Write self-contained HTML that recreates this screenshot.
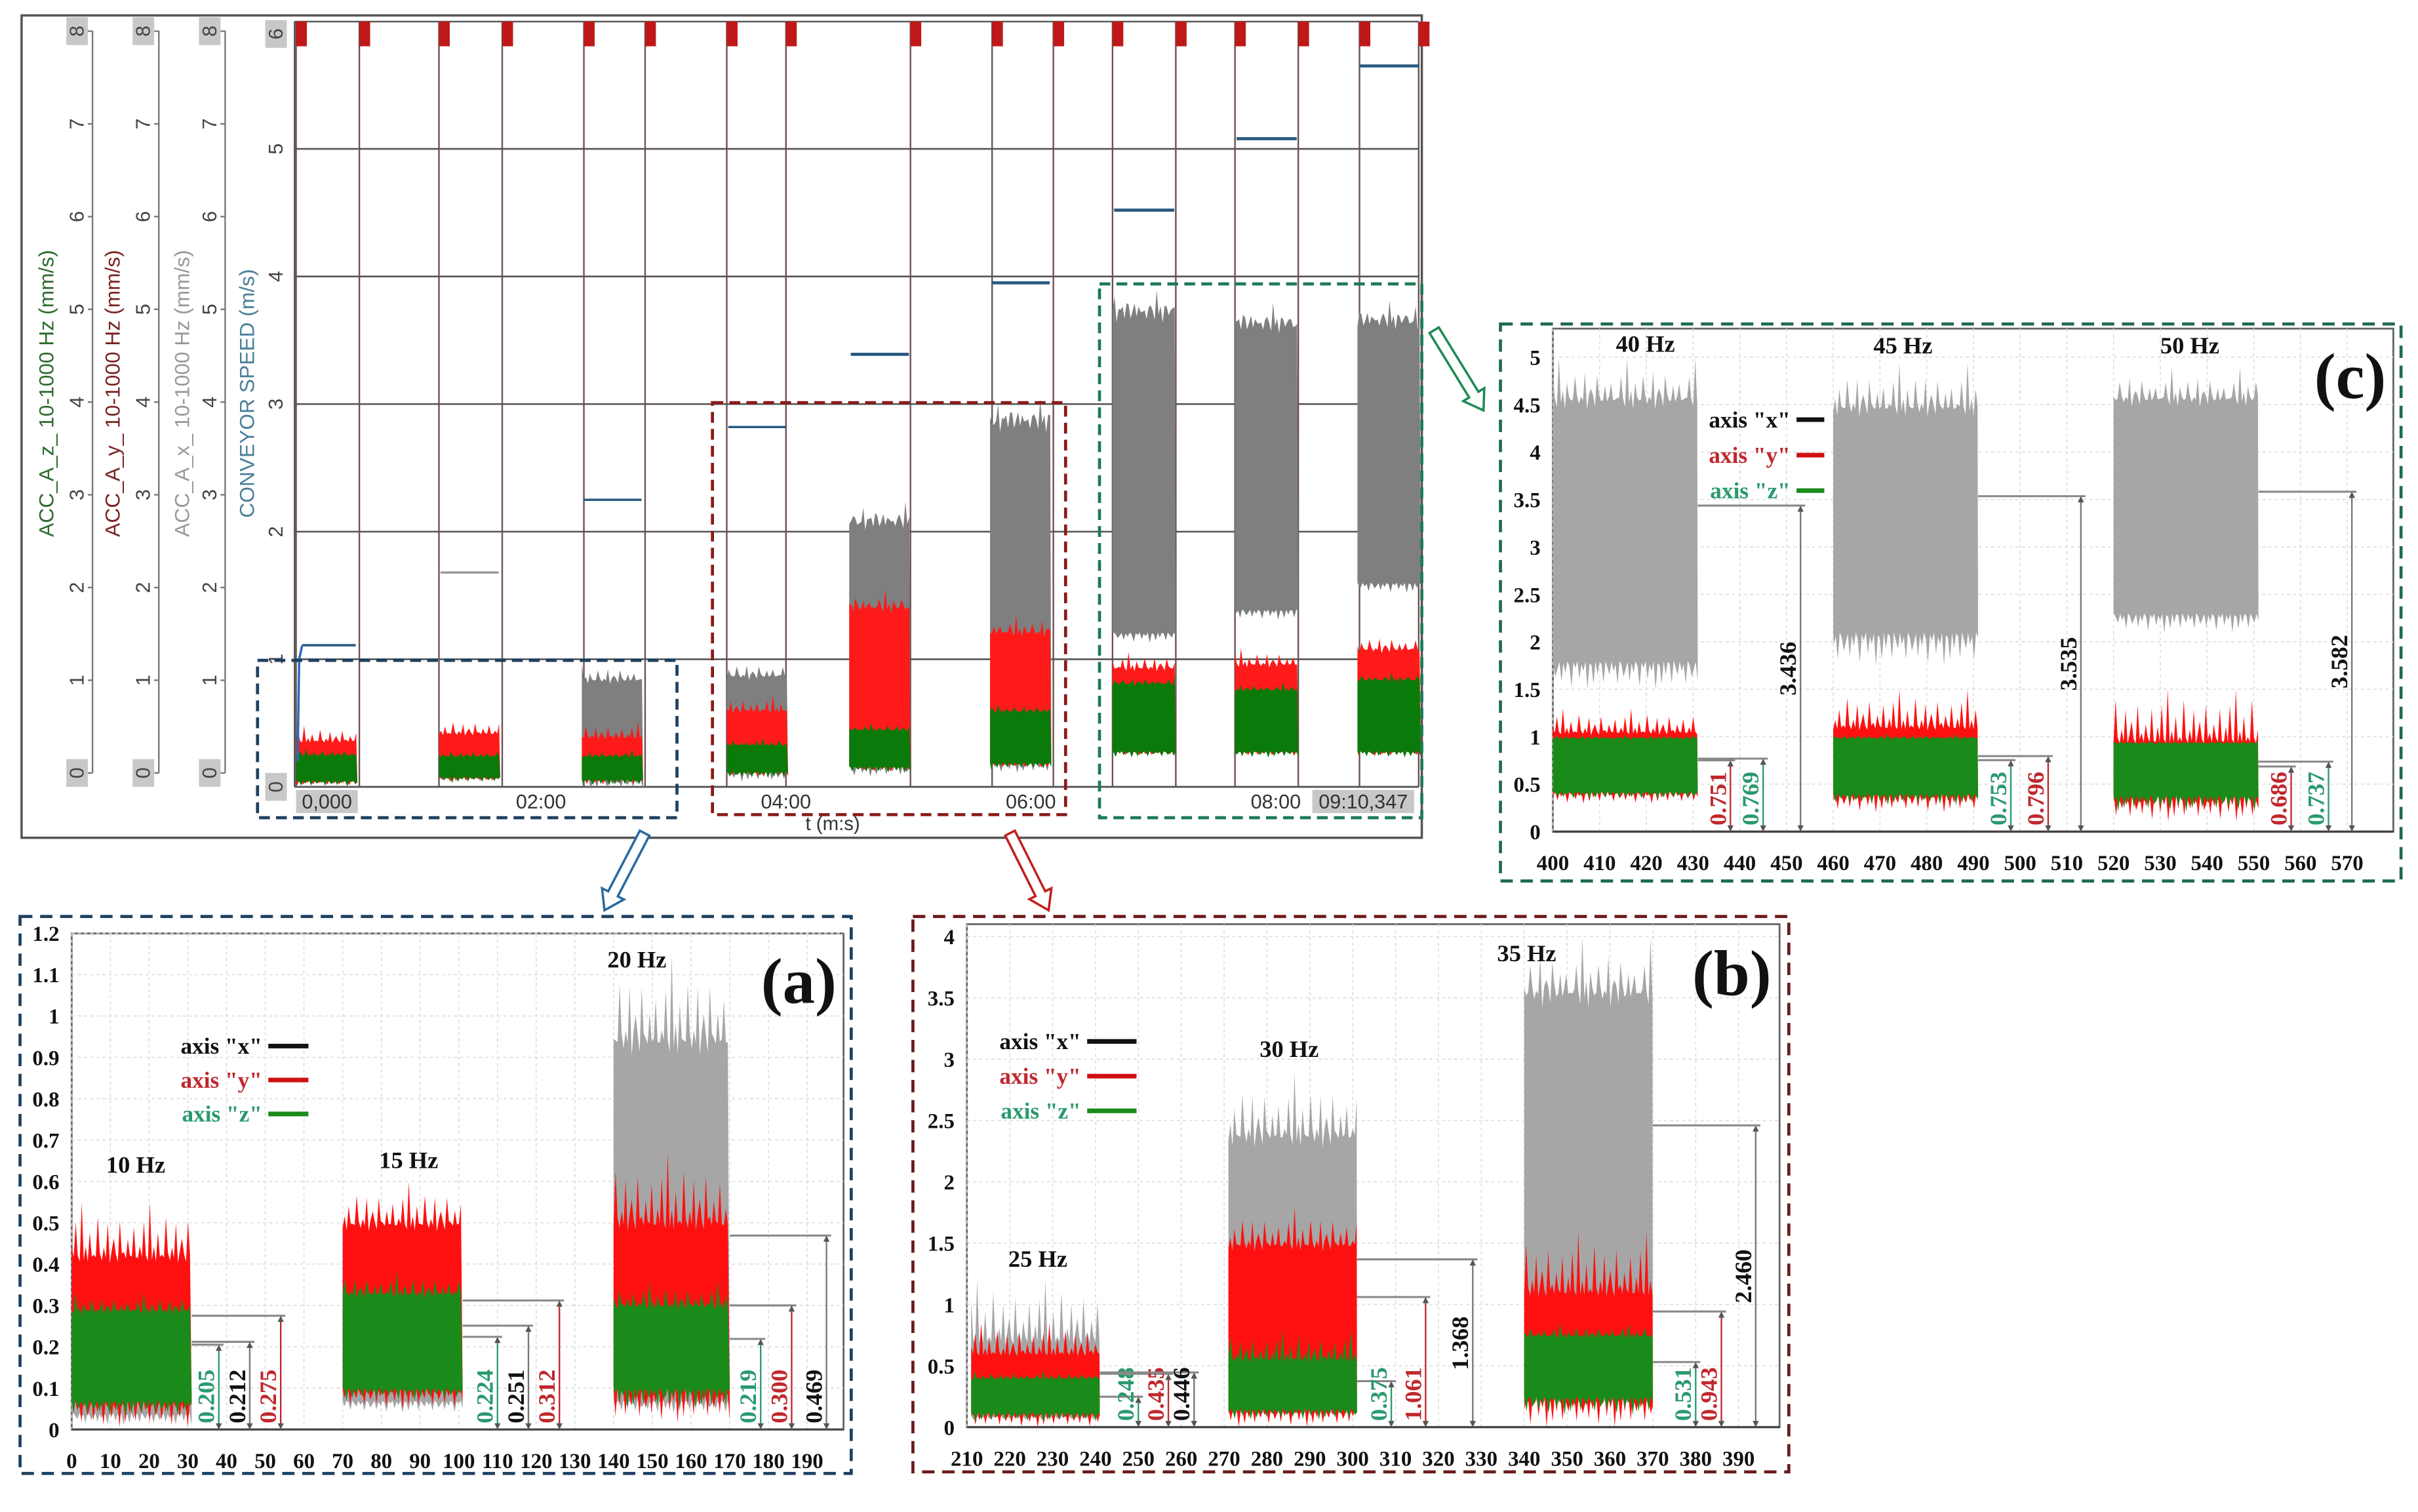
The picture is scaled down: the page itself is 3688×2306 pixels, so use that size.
<!DOCTYPE html>
<html><head><meta charset="utf-8"><style>
html,body{margin:0;padding:0;background:#fff;}
svg{display:block;}
.ser{font-family:"Liberation Serif",serif;font-weight:bold;}
.san{font-family:"Liberation Sans",sans-serif;}
</style></head><body>
<svg id="fig" xmlns="http://www.w3.org/2000/svg" width="3688" height="2306" viewBox="0 0 1568 980" preserveAspectRatio="none">
<rect x="0" y="0" width="1568" height="980" fill="#fff"/>
<g id="top"></g>
<g id="pa"></g>
<g id="pb"></g>
<g id="pc"></g>
<g id="deco"></g>
</svg>
<script>
// ---------- data: overview (top) ----------
const topStarts=[0,70,140,211,271,340,400,460,520];
const topEnds=[30,100,170,241,301,370,431,491,551];
const topSpeed=[1.11,1.68,2.25,2.82,3.39,3.95,4.52,5.08,5.65];
const topGreyTop=[0.3,0.3,0.85,0.88,2.12,2.93,3.78,3.68,3.7];
const topGreyBot=[0.05,0.08,0.06,0.12,0.16,0.19,1.21,1.39,1.6];
const topRedTop=[0.36,0.42,0.39,0.6,1.43,1.23,0.94,0.97,1.09];
const topGreenTop=[0.25,0.24,0.24,0.33,0.45,0.6,0.82,0.77,0.85];
const topBottom=[0.05,0.08,0.06,0.12,0.16,0.19,0.28,0.28,0.28];
const accTicks=[0,1,2,3,4,5,6,7,8];
const speedTicks=[0,1,2,3,4,5,6];
const timeLines=[0,31,70,101,141,171,211,240,301,341,371,400,431,460,491,521,550];
const timeLabels=["0,000","02:00","04:00","06:00","08:00","09:10,347"];
const timeLabelSec=[15,120,240,360,480,525];

// ---------- data: panel a ----------
const aFreq=["10 Hz","15 Hz","20 Hz"];
const aStart=[0,70,140], aEnd=[31,101,170];
const aGreyTop=[0.3,0.33,0.95], aGreyPeak=[0.3,0.33,1.15];
const aRedTop=[0.42,0.5,0.5], aRedPeak=[0.55,0.6,0.67];
const aGreenTop=[0.29,0.33,0.3], aBottom=[0.07,0.1,0.1];
const aAnnVal=[0.205,0.212,0.275,0.224,0.251,0.312,0.219,0.300,0.469];
const aAnnX=[38,46,54,110,118,126,178,186,195];
const aAnnCol=["g","k","r","g","k","r","g","r","k"];
const aAnnBlock=[0,0,0,1,1,1,2,2,2];
const aYTicks=[0,0.1,0.2,0.3,0.4,0.5,0.6,0.7,0.8,0.9,1,1.1,1.2];
const aXTicks=[0,10,20,30,40,50,60,70,80,90,100,110,120,130,140,150,160,170,180,190];

// ---------- data: panel b ----------
const bFreq=["25 Hz","30 Hz","35 Hz"];
const bStart=[211,271,340], bEnd=[241,301,370];
const bGreyTop=[0.7,2.4,3.6], bGreyPeak=[1.2,2.9,4.0];
const bRedTop=[0.6,1.5,1.1], bRedPeak=[0.85,1.8,1.6];
const bGreenTop=[0.4,0.55,0.75], bBottom=[0.12,0.15,0.25];
const bAnnVal=[0.248,0.435,0.446,0.375,1.061,1.368,0.531,0.943,2.460];
const bAnnX=[250,257,263,309,317,328,380,386,394];
const bAnnCol=["g","r","k","g","r","k","g","r","k"];
const bAnnBlock=[0,0,0,1,1,1,2,2,2];
const bYTicks=[0,0.5,1,1.5,2,2.5,3,3.5,4];
const bXTicks=[210,220,230,240,250,260,270,280,290,300,310,320,330,340,350,360,370,380,390];

// ---------- data: panel c ----------
const cFreq=["40 Hz","45 Hz","50 Hz"];
const cStart=[400,460,520], cEnd=[431,491,551];
const cGreyTop=[4.6,4.5,4.6], cGreyPeak=[5.0,4.95,4.9];
const cGreyBot=[1.8,2.1,2.3], cGreyDip=[1.5,1.75,2.1];
const cRedTop=[1.05,1.1,0.95], cRedPeak=[1.3,1.5,1.5];
const cGreenTop=[1.0,1.0,0.95], cBottom=[0.42,0.4,0.38];
const cAnnVal=[0.751,0.769,3.436,0.753,0.796,3.535,0.686,0.737,3.582];
const cAnnX=[438,445,453,498,506,513,558,566,571];
const cAnnCol=["r","g","k","g","r","k","r","g","k"];
const cAnnBlock=[0,0,0,1,1,1,2,2,2];
const cYTicks=[0,0.5,1,1.5,2,2.5,3,3.5,4,4.5,5];
const cXTicks=[400,410,420,430,440,450,460,470,480,490,500,510,520,530,540,550,560,570];

// ---------- helpers ----------
const NS="http://www.w3.org/2000/svg";
const JAG=[0.2,0.7,0.1,0.9,0.4,0.3,1,0.15,0.6,0.35,0.8,0.05,0.5,0.25,0.95,0.45,0.1,0.65,0.3,0.85,0.2,0.55,0.75,0.4,0.05,0.9,0.35,0.6,0.15,0.7,0.5,0.02,0.88,0.33];
function mk(tag,attrs,parent){const e=document.createElementNS(NS,tag);for(const k in attrs)e.setAttribute(k,attrs[k]);parent.appendChild(e);return e;}
function txt(parent,x,y,s,attrs){const t=mk('text',Object.assign({x:x,y:y},attrs),parent);t.textContent=s;return t;}
function band(parent,x1,x2,yTop,yPeak,yBot,yDip,fill,phase,name){
  let d="M"+x1+","+yBot;const step=1.3;let k=phase;const pts=[];
  for(let x=x1;x<=x2;x+=step){const j=JAG[k%JAG.length];pts.push([x,yTop-(j*j*j)*(yTop-yPeak)+ (JAG[(k+5)%JAG.length]*(yBot-yTop)*0.06)]);k++;}
  d+="L"+x1+","+pts[0][1];for(const p of pts)d+="L"+p[0].toFixed(2)+","+p[1].toFixed(2);
  d+="L"+x2+","+yBot;
  for(let x=x2;x>=x1;x-=step){const j=JAG[(k+11)%JAG.length];d+="L"+x.toFixed(2)+","+(yBot+(j*j)*(yDip-yBot)).toFixed(2);k++;}
  d+="Z";
  const p=mk('path',{d:d,fill:fill},parent);
  
  
  return p;
}
const COL={g:"#2a9a6e",r:"#c0282e",k:"#111"};

// ---------- overview ----------
(function(){
  const g=document.getElementById('top');
  const tx=t=>192+t*1.3236;
  const sy=v=>510-v*82.7;
  const ay=v=>501-v*60.1;
  const box=mk('rect',{x:14,y:10,width:908,height:533,fill:'none',stroke:'#555','stroke-width':1.5},g);
  
  const axX=[60,103,146];
  const labX=[50,93,136];
  axX.forEach((ax,i)=>{
    const l=mk('line',{x1:ax,y1:20,x2:ax,y2:501,stroke:'#777','stroke-width':1},g);
    
    accTicks.forEach(v=>{
      const y=ay(v);
      mk('line',{x1:ax-3,y1:y,x2:ax,y2:y,stroke:'#777'},g);
      if(v===0||v===8){const r=mk('rect',{x:labX[i]-7,y:y-9,width:14,height:18,fill:'#c8c8c8'},g);}
      const t=txt(g,labX[i],y,String(v),{class:'san','font-size':13,fill:'#444','text-anchor':'middle','dominant-baseline':'central',transform:`rotate(-90 ${labX[i]} ${y})`});
      
    });
  });
  speedTicks.forEach(v=>{
    const y=Math.max(sy(v),22);
    if(v===0||v===6){const r=mk('rect',{x:172,y:y-9,width:14,height:18,fill:'#c8c8c8'},g);}
    const t=txt(g,179,y,String(v),{class:'san','font-size':13,fill:'#444','text-anchor':'middle','dominant-baseline':'central',transform:`rotate(-90 179 ${y})`});
    
    if(v>0&&v<6){const l=mk('line',{x1:191,y1:sy(v),x2:920,y2:sy(v),stroke:'#555','stroke-width':1.1},g);}
  });
  const titles=[[30,'ACC_A_z_ 10-1000 Hz (mm/s)','#2e6b2e'],[73,'ACC_A_y_ 10-1000 Hz (mm/s)','#7a2323'],[118,'ACC_A_x_ 10-1000 Hz (mm/s)','#999'],[160,'CONVEYOR SPEED (m/s)','#4a7f9a']];
  titles.forEach(tt=>{const t=txt(g,tt[0],255,tt[1],{class:'san','font-size':13.5,fill:tt[2],'text-anchor':'middle','dominant-baseline':'central',transform:`rotate(-90 ${tt[0]} 255)`});});
  mk('line',{x1:191,y1:14,x2:191,y2:510,stroke:'#555'},g);
  mk('line',{x1:191,y1:510,x2:920,y2:510,stroke:'#555','stroke-width':1.2},g);
  mk('line',{x1:191,y1:14,x2:920,y2:14,stroke:'#555'},g);
  timeLines.forEach(t=>{
    const x=tx(t);
    const l=mk('line',{x1:x,y1:14,x2:x,y2:510,stroke:'#6a5050','stroke-width':1},g);
    
    const m=mk('rect',{x:x,y:14,width:7,height:16,fill:'#c01818'},g);
    
  });
  topStarts.forEach((s,i)=>{
    const x1=tx(s),x2=tx(topEnds[i]);
    if(topGreyTop[i]>topRedTop[i]) band(g,x1,x2,sy(topGreyTop[i]),sy(topGreyTop[i]+0.12),sy(topGreyBot[i]),sy(topGreyBot[i]-0.08),'#7f7f7f',i*3,'x-signal-block');
    band(g,x1,x2,sy(topRedTop[i]),sy(topRedTop[i]+0.12),sy(topBottom[i]),sy(topBottom[i]-0.04),'#ff1a1a',i*5+2,'y-signal-block');
    band(g,x1,x2,sy(topGreenTop[i]),sy(topGreenTop[i]+0.05),sy(topBottom[i]),sy(topBottom[i]-0.05),'#0a7a0a',i*7+1,'z-signal-block');
    const sx1=i===0?tx(s)+4:x1+1;
    const l=mk('line',{x1:sx1,y1:sy(topSpeed[i]),x2:x2-1,y2:sy(topSpeed[i]),stroke:i===1?'#999':'#2a5a80','stroke-width':i>=4?2:1.5},g);
    
  });
  const ramp=mk('polyline',{points:`${tx(0)+1},${sy(0.2)} ${tx(0)+2},${sy(1.0)} ${tx(0)+4},${sy(topSpeed[0])}`,fill:'none',stroke:'#2a6ac0','stroke-width':1.5},g);
  
  timeLabels.forEach((s,i)=>{
    const x=tx(timeLabelSec[i]);
    if(i===0||i===5){const w=i===0?40:66;const r=mk('rect',{x:(i===5?884:212)-w/2,y:512,width:w,height:15,fill:'#c8c8c8'},g);}
    const t=txt(g,i===5?884:(i===0?212:x),524,s,{class:'san','font-size':13,fill:'#333','text-anchor':'middle'});
    
  });
  const tt=txt(g,540,538,'t (m:s)',{class:'san','font-size':12.5,fill:'#333','text-anchor':'middle'});
  
})();

// ---------- detail panels ----------
function panel(gid,cfg){
  const g=document.getElementById(gid);
  const X=v=>cfg.left+(v-cfg.xmin)*cfg.sx;
  const Y=v=>cfg.y0-v*cfg.sy;
  const db=mk('rect',{x:cfg.box[0],y:cfg.box[1],width:cfg.box[2]-cfg.box[0],height:cfg.box[3]-cfg.box[1],fill:'none',stroke:cfg.boxCol,'stroke-width':2,'stroke-dasharray':'8 5'},g);
  
  mk('rect',{x:cfg.left,y:cfg.top,width:cfg.right-cfg.left,height:cfg.y0-cfg.top,fill:'#fff',stroke:'#666','stroke-width':1.2},g);
  cfg.xt.forEach(v=>{
    const x=X(v);
    const l=mk('line',{x1:x,y1:cfg.top,x2:x,y2:cfg.y0,stroke:'#ddd','stroke-width':0.7,'stroke-dasharray':'2 2'},g);
    
    const t=txt(g,x,cfg.y0+25,String(v),{class:'ser','font-size':14,fill:'#111','text-anchor':'middle'});
    
  });
  cfg.yt.forEach(v=>{
    const y=Y(v);
    if(v>0){const l=mk('line',{x1:cfg.left,y1:y,x2:cfg.right,y2:y,stroke:'#ddd','stroke-width':0.7,'stroke-dasharray':'2 2'},g);}
    const t=txt(g,cfg.left-8,y+5,String(v),{class:'ser','font-size':14,fill:'#111','text-anchor':'end'});
    
  });
  mk('line',{x1:cfg.left,y1:cfg.y0,x2:cfg.right,y2:cfg.y0,stroke:'#444','stroke-width':1.4},g);
  cfg.start.forEach((s,i)=>{
    const x1=X(s),x2=X(cfg.end[i]);
    const gb=cfg.greyBot?cfg.greyBot[i]:cfg.bottom[i]-0.03;
    const gd=cfg.greyDip?cfg.greyDip[i]:cfg.bottom[i]-0.06;
    band(g,x1,x2,Y(cfg.greyTop[i]),Y(cfg.greyPeak[i]),Y(gb),Y(gd),'#a6a6a6',i*4+3,'x-signal-block');
    band(g,x1,x2,Y(cfg.redTop[i]),Y(cfg.redPeak[i]),Y(cfg.bottom[i]),Y(cfg.bottom[i]-(cfg.redPeak[i]-cfg.redTop[i])*0.5),'#ff1010',i*6+1,'y-signal-block');
    band(g,x1,x2,Y(cfg.greenTop[i]),Y(cfg.greenTop[i]+(cfg.redTop[i]-cfg.greenTop[i])*0.25+0.01),Y(cfg.bottom[i]),Y(cfg.bottom[i]-(cfg.redPeak[i]-cfg.redTop[i])*0.3),'#1a8a1a',i*9+4,'z-signal-block');
    const f=txt(g,cfg.freqPos[i][0],cfg.freqPos[i][1],cfg.freq[i],{class:'ser','font-size':15.5,fill:'#111','text-anchor':'middle'});
    
  });
  cfg.annVal.forEach((v,i)=>{
    const x=X(cfg.annX[i]);const y=Y(v);const bx=X(cfg.end[cfg.annBlock[i]]);
    const c=COL[cfg.annCol[i]];
    const h=mk('line',{x1:bx,y1:y,x2:x+3,y2:y,stroke:'#888','stroke-width':1.3},g);
    
    const a=mk('line',{x1:x,y1:y+3,x2:x,y2:cfg.y0-3,stroke:c==="#111"?'#777':c,'stroke-width':1},g);
    
    mk('path',{d:`M${x-2},${y+4}L${x},${y}L${x+2},${y+4}ZM${x-2},${cfg.y0-4}L${x},${cfg.y0}L${x+2},${cfg.y0-4}Z`,fill:'#555'},g);
    const s=v.toFixed(3);
    const big=v>1.3;
    const ly=big?Y(v*0.5):cfg.y0-4;
    const t=txt(g,x-3,ly,s,{class:'ser','font-size':15.5,fill:c,'text-anchor':big?'middle':'start',transform:`rotate(-90 ${x-3} ${ly})`});
    
  });
  const lg=[['axis "x"','#111','#111'],['axis "y"','#c0282e','#d01010'],['axis "z"','#2a9a6e','#1a8a1a']];
  lg.forEach((e,i)=>{
    const y=cfg.legY+i*cfg.legDy;
    const t=txt(g,cfg.legX,y+5,e[0],{class:'ser','font-size':15,fill:e[1],'text-anchor':'end'});
    
    mk('line',{x1:cfg.legX+4,y1:y,x2:cfg.legX+4+cfg.legW,y2:y,stroke:e[2],'stroke-width':3},g);
  });
  const L=txt(g,cfg.lab[0],cfg.lab[1],cfg.lab[2],{class:'ser','font-size':42,fill:'#111','text-anchor':'middle'});
  
}
panel('pa',{left:46.5,right:547,top:605,y0:926.5,xmin:0,sx:2.51,sy:268,box:[13,594,552,955],boxCol:'#1e4060',
  xt:aXTicks,yt:aYTicks,start:aStart,end:aEnd,greyTop:aGreyTop,greyPeak:aGreyPeak,redTop:aRedTop,redPeak:aRedPeak,greenTop:aGreenTop,bottom:aBottom,
  freq:aFreq,freqPos:[[88,760],[265,757],[413,627]],annVal:aAnnVal,annX:aAnnX,annCol:aAnnCol,annBlock:aAnnBlock,legX:170,legY:678,legDy:22,legW:26,lab:[518,650,'(a)']});
panel('pb',{left:627,right:1154,top:599,y0:925,xmin:210,sx:2.78,sy:79.5,box:[592,594,1160,954],boxCol:'#6a1a1a',
  xt:bXTicks,yt:bYTicks,start:bStart,end:bEnd,greyTop:bGreyTop,greyPeak:bGreyPeak,redTop:bRedTop,redPeak:bRedPeak,greenTop:bGreenTop,bottom:bBottom,
  freq:bFreq,freqPos:[[673,821],[836,685],[990,623]],annVal:bAnnVal,annX:bAnnX,annCol:bAnnCol,annBlock:bAnnBlock,legX:701,legY:675,legDy:22.5,legW:32,lab:[1123,645,'(b)']});
panel('pc',{left:1007,right:1552,top:213,y0:539,xmin:400,sx:3.03,sy:61.5,box:[973,210,1557,571],boxCol:'#1e6a50',
  xt:cXTicks,yt:cYTicks,start:cStart,end:cEnd,greyTop:cGreyTop,greyPeak:cGreyPeak,greyBot:cGreyBot,greyDip:cGreyDip,redTop:cRedTop,redPeak:cRedPeak,greenTop:cGreenTop,bottom:cBottom,
  freq:cFreq,freqPos:[[1067,228],[1234,229],[1420,229]],annVal:cAnnVal,annX:cAnnX,annCol:cAnnCol,annBlock:cAnnBlock,legX:1161,legY:272,legDy:23,legW:18,lab:[1524,258,'(c)']});

// ---------- callout boxes & arrows on overview ----------
(function(){
  const g=document.getElementById('deco');
  const bx=[[167,428,439,530,'#1e4060'],[462,261,691,528,'#8a1a1a'],[713,184,922,530,'#1e7a55']];
  bx.forEach(b=>{const r=mk('rect',{x:b[0],y:b[1],width:b[2]-b[0],height:b[3]-b[1],fill:'none',stroke:b[4],'stroke-width':2,'stroke-dasharray':'7 4'},g);});
  const ar=[[418,540,392,590,'#2a6aa0'],[655,540,680,590,'#c02020'],[930,214,962,266,'#1e8a55']];
  ar.forEach(a=>{
    const dx=a[2]-a[0],dy=a[3]-a[1],L=Math.hypot(dx,dy),ux=dx/L,uy=dy/L,px=-uy,py=ux;
    const w=3.5,hw=8,hl=12;
    const bx0=a[2]-ux*hl,by0=a[3]-uy*hl;
    const pts=[[a[0]+px*w,a[1]+py*w],[bx0+px*w,by0+py*w],[bx0+px*hw,by0+py*hw],[a[2],a[3]],[bx0-px*hw,by0-py*hw],[bx0-px*w,by0-py*w],[a[0]-px*w,a[1]-py*w]];
    const p=mk('polygon',{points:pts.map(q=>q[0].toFixed(1)+','+q[1].toFixed(1)).join(' '),fill:'#fff',stroke:a[4],'stroke-width':1.5},g);
    
  });
})();
</script>
</body></html>
